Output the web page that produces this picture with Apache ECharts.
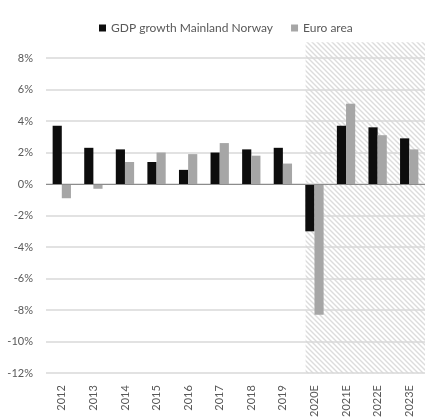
<!DOCTYPE html>
<html>
<head>
<meta charset="utf-8">
<script src="https://cdn.jsdelivr.net/npm/echarts@6/dist/echarts.min.js"></script>
<style>
  html, body { margin: 0; padding: 0; background: #fff; }
  #chart { width: 425px; height: 420px; }
</style>
</head>
<body>
<div id="chart"></div>
<script>
// years, last four are estimates
const years = ['2012', '2013', '2014', '2015', '2016', '2017', '2018', '2019', '2020E', '2021E', '2022E', '2023E'];
const norway = [3.7, 2.3, 2.2, 1.4, 0.9, 2.0, 2.2, 2.3, -3.0, 3.7, 3.6, 2.9];
const euroArea = [-0.9, -0.3, 1.4, 2.0, 1.9, 2.6, 1.8, 1.3, -8.3, 5.1, 3.1, 2.2];
// shaded forecast band: first category, top and bottom value
const forecastBand = [[8, 9, -12]];

const TEXT = '#595959';
const FONT = 'Lato';

// diagonal hatch for the forecast area
function makeHatch() {
    let c = document.createElement('canvas');
    c.width = 5;
    c.height = 5;
    let ctx = c.getContext('2d');
    ctx.strokeStyle = '#dcdcdc';
    ctx.lineWidth = 1.4;
    ctx.beginPath();
    ctx.moveTo(-1, -1); ctx.lineTo(6, 6);
    ctx.moveTo(-1, 4); ctx.lineTo(1, 6);
    ctx.moveTo(4, -1); ctx.lineTo(6, 1);
    ctx.stroke();
    return c;
}
const hatch = makeHatch();

let chart = echarts.init(document.getElementById('chart'));

chart.setOption({
    animation: false,
    textStyle: { fontFamily: FONT },
    legend: {
        top: 17,
        left: 94,
        icon: 'rect',
        itemWidth: 7,
        itemHeight: 7,
        itemGap: 18,
        data: ['GDP growth Mainland Norway', 'Euro area'],
        textStyle: { color: TEXT, fontSize: 12, fontFamily: FONT }
    },
    grid: {
        left: 46,
        top: 58,
        width: 384,
        bottom: 41,
        containLabel: false
    },
    xAxis: {
        type: 'category',
        data: years,
        axisLine: { show: false },
        axisTick: { show: false },
        axisLabel: {
            rotate: 90,
            margin: 12,
            color: TEXT,
            fontSize: 11,
            fontFamily: FONT
        }
    },
    yAxis: {
        type: 'value',
        min: -12,
        max: 8,
        interval: 2,
        axisLine: { show: false },
        axisTick: { show: false },
        axisLabel: {
            formatter: '{value}%',
            margin: 13,
            color: TEXT,
            fontSize: 11,
            fontFamily: FONT
        },
        splitLine: {
            lineStyle: { color: '#d9d9d9', width: 1.5 }
        }
    },
    series: [{
        type: 'custom',
        z: -1,
        silent: true,
        clip: false,
        data: forecastBand,
        encode: { x: 0, y: [1, 2] },
        renderItem: function (params, api) {
            let top = api.coord([api.value(0), api.value(1)]);
            let bottom = api.coord([api.value(0), api.value(2)]);
            let x = top[0] - api.size([1, 0])[0] * 0.28;
            let right = params.coordSys.x + params.coordSys.width;
            return {
                type: 'rect',
                shape: { x: x, y: top[1], width: right - x, height: bottom[1] - top[1] },
                style: { fill: { image: hatch, repeat: 'repeat' } }
            };
        }
    }, {
        name: 'GDP growth Mainland Norway',
        type: 'bar',
        data: norway,
        barWidth: '29%',
        barGap: '0%',
        itemStyle: { color: '#0d0d0d' },
        markLine: {
            silent: true,
            symbol: 'none',
            label: { show: false },
            lineStyle: { color: '#8c8c8c', width: 1.2, type: 'solid' },
            data: [{ yAxis: 0 }]
        }
    }, {
        name: 'Euro area',
        type: 'bar',
        data: euroArea,
        barWidth: '29%',
        barGap: '0%',
        itemStyle: { color: '#a6a6a6' }
    }]
});
</script>
</body>
</html>
